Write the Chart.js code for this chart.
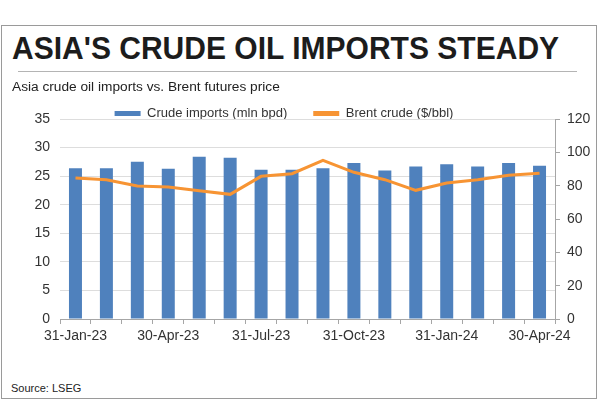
<!DOCTYPE html>
<html>
<head>
<meta charset="utf-8">
<script src="https://cdn.jsdelivr.net/npm/chart.js@4.4.0/dist/chart.umd.min.js"></script>
<style>
  body { margin: 0; background: #fff; font-family: "Liberation Sans", Arial, sans-serif; }
  #wrap { position: relative; width: 600px; height: 400px; overflow: hidden; }
  #frame { position: absolute; left: 1px; top: 25px; width: 594px; height: 372px; border: 1px solid #9a9a9a; }
  #title { position: absolute; left: 12px; top: 34px; font-size: 30.8px; line-height: 30.8px; font-weight: bold; color: #1c1c1c; white-space: nowrap; transform: scaleX(0.975); transform-origin: 0 0; }
  #rule { position: absolute; left: 18px; top: 71px; width: 559px; height: 1px; background: #b4b4b4; }
  #subtitle { position: absolute; left: 12px; top: 79px; font-size: 13.7px; color: #222; white-space: nowrap; }
  #source { position: absolute; left: 11px; top: 382px; font-size: 11px; color: #222; }
  #chartBox { position: absolute; left: -32px; top: 81px; width: 632px; height: 269px; }
</style>
</head>
<body>
<div id="wrap">
  <div id="frame"></div>
  <div id="chartBox"><canvas id="chart"></canvas></div>
  <div id="title">ASIA'S CRUDE OIL IMPORTS STEADY</div>
  <div id="rule"></div>
  <div id="subtitle">Asia crude oil imports vs. Brent futures price</div>
  <div id="source">Source: LSEG</div>
</div>
<script>
  "use strict";

  // Data
  const months = ['31-Jan-23', '28-Feb-23', '31-Mar-23', '30-Apr-23', '31-May-23', '30-Jun-23',
                  '31-Jul-23', '31-Aug-23', '30-Sep-23', '31-Oct-23', '30-Nov-23', '31-Dec-23',
                  '31-Jan-24', '29-Feb-24', '31-Mar-24', '30-Apr-24'];
  const crudeImports = [26.4, 26.4, 27.5, 26.3, 28.4, 28.2, 26.1, 26.1,
                        26.4, 27.3, 26.0, 26.7, 27.1, 26.7, 27.3, 26.8];
  const brentPrice = [84.6, 83.6, 79.8, 79.2, 77.0, 74.8, 85.6, 87.2,
                      95.2, 88.0, 83.6, 77.2, 81.6, 83.6, 86.2, 87.4];

  const textColor = '#333333';
  const axisColor = '#a6a6a6';
  const fontFamily = '"Liberation Sans", Arial, sans-serif';

  new Chart(document.getElementById('chart'), {
    data: {
      labels: months,
      datasets: [
        {
          type: 'bar',
          label: 'Crude imports (mln bpd)',
          data: crudeImports,
          backgroundColor: '#4f81bd',
          yAxisID: 'y',
          categoryPercentage: 1,
          barPercentage: 0.42,
          order: 1
        },
        {
          type: 'line',
          label: 'Brent crude ($/bbl)',
          data: brentPrice,
          borderColor: '#f79433',
          backgroundColor: '#f79433',
          borderWidth: 3,
          pointRadius: 0,
          tension: 0,
          yAxisID: 'y1',
          order: 0
        }
      ]
    },
    options: {
      responsive: true,
      maintainAspectRatio: false,
      animation: false,
      layout: { padding: 0 },
      plugins: {
        tooltip: { enabled: false },
        legend: {
          position: 'top',
          align: 'center',
          maxHeight: 38,
          labels: {
            boxWidth: 26,
            boxHeight: 5,
            padding: 26,
            color: textColor,
            font: { family: fontFamily, size: 13 },
            sort: (a, b) => a.datasetIndex - b.datasetIndex,
            generateLabels: function (chart) {
              const items = Chart.defaults.plugins.legend.labels.generateLabels(chart);
              items.forEach(item => { item.lineWidth = 0; });
              return items;
            }
          }
        }
      },
      scales: {
        x: {
          offset: true,
          grid: { offset: true, drawOnChartArea: false, drawTicks: true, tickLength: 5, color: axisColor },
          border: { color: axisColor },
          ticks: {
            color: textColor,
            autoSkip: false,
            maxRotation: 0,
            padding: 4,
            font: { family: fontFamily, size: 14 },
            callback: function (value, index) {
              return index % 3 === 0 ? months[index] : '';
            }
          },
          afterFit: function (scale) { scale.height = 31; }
        },
        y: {
          position: 'left',
          min: 0,
          max: 35,
          ticks: {
            stepSize: 5,
            padding: 10,
            color: textColor,
            font: { family: fontFamily, size: 14 }
          },
          grid: { color: '#dddddd', drawTicks: false },
          border: { display: false },
          afterFit: function (scale) { scale.width = 92; }
        },
        y1: {
          position: 'right',
          min: 0,
          max: 120,
          ticks: {
            stepSize: 20,
            padding: 7,
            color: textColor,
            font: { family: fontFamily, size: 14 }
          },
          grid: { drawOnChartArea: false, drawTicks: true, tickLength: 5, color: axisColor },
          border: { color: axisColor },
          afterFit: function (scale) { scale.width = 45; }
        }
      }
    }
  });
</script>
</body>
</html>
